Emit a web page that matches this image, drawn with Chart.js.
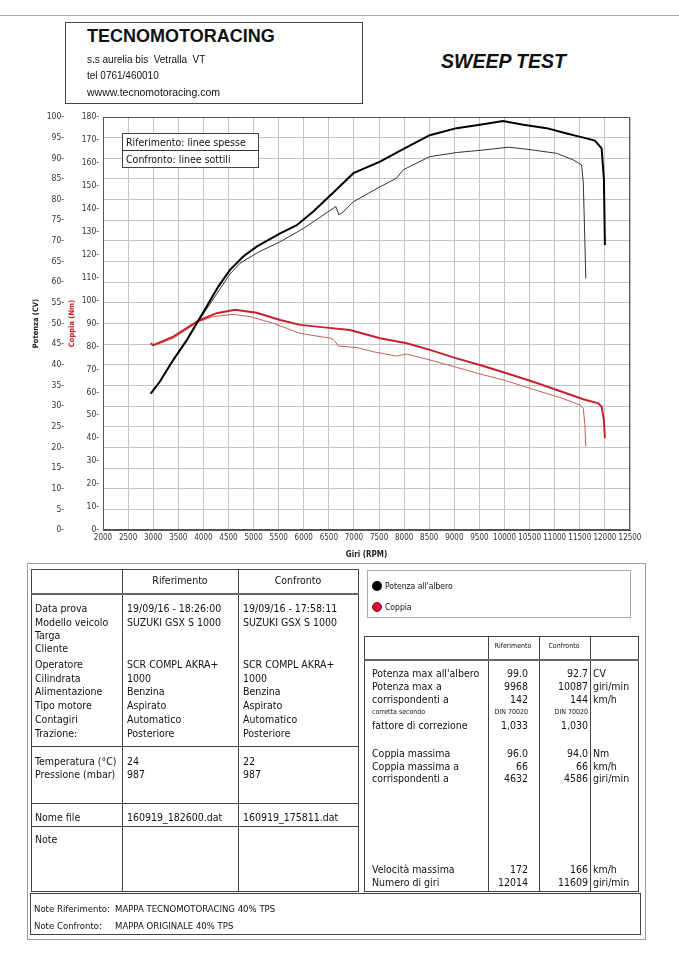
<!DOCTYPE html>
<html>
<head>
<meta charset="utf-8">
<title>Sweep test</title>
<script src="https://cdn.jsdelivr.net/npm/chart.js"></script>
<style>
  body { margin: 0; background: #fff; }
  #page { position: relative; width: 679px; height: 960px; overflow: hidden; color: #111;
          font-family: "DejaVu Sans Condensed", "DejaVu Sans", sans-serif; font-size: 10px; }
  .box { position: absolute; box-sizing: border-box; border: 1px solid #444; background: transparent; }
  .hl { position: absolute; height: 0; border-top: 1px solid #444; }
  .vl { position: absolute; width: 0; border-left: 1px solid #444; }
  .t { position: absolute; white-space: pre; line-height: 14px; }
  #chartWrap { position: absolute; left: 0; top: 100px; width: 679px; height: 470px; }
  .dot { position: absolute; width: 10px; height: 10px; border-radius: 50%; box-sizing: border-box; }
</style>
</head>
<body>
<div id="page">
  <div class="hl" style="left:0;top:15px;width:679px;border-color:#aaa"></div>
  <div class="box" style="left:65px;top:22px;width:298px;height:82px"></div>
  <div id="chartWrap"><canvas id="dyno" width="679" height="470"></canvas></div>
  <div class="box" style="left:122px;top:133px;width:137px;height:35px;background:#fff"></div>
  <div class="hl" style="left:122px;top:150px;width:137px;border-color:#333"></div>

  <div class="box" style="left:27px;top:563px;width:619px;height:377px;border-color:#999"></div>
  <div class="box" style="left:31px;top:569px;width:328px;height:323px"></div>
  <div class="vl" style="left:122px;top:569px;height:323px"></div>
  <div class="vl" style="left:238px;top:569px;height:323px"></div>
  <div class="hl" style="left:31px;top:593px;width:328px;border-top:2px solid #666"></div>
  <div class="hl" style="left:31px;top:746px;width:328px"></div>
  <div class="hl" style="left:31px;top:803px;width:328px"></div>
  <div class="hl" style="left:31px;top:826px;width:328px"></div>

  <div class="box" style="left:367px;top:570px;width:264px;height:48px;border-color:#aaa"></div>
  <div class="dot" style="left:372px;top:581px;background:#000"></div>
  <div class="dot" style="left:372px;top:602px;background:#d6103c;border:1px solid #8a0c22"></div>

  <div class="box" style="left:364px;top:636px;width:275px;height:256px"></div>
  <div class="vl" style="left:488px;top:636px;height:256px"></div>
  <div class="vl" style="left:539px;top:636px;height:256px"></div>
  <div class="vl" style="left:590px;top:636px;height:256px"></div>
  <div class="hl" style="left:364px;top:659px;width:275px;border-top:2px solid #666"></div>

  <div class="box" style="left:30px;top:893px;width:611px;height:42px"></div>
</div>
<script>
// giri (RPM) e valori letti dal grafico
// potenza all'albero (CV) - riferimento (linea spessa)
const rpmPotRif = [2950, 3130, 3400, 3670, 3900, 4065, 4300, 4530, 4800, 5060, 5530, 5860, 6190, 6590, 6990, 7520, 7980, 8510, 9045, 9510, 9970, 10375, 10840, 11240, 11570, 11800, 11935, 11980, 12000];
const potRif    = [33.0, 35.9, 41.2, 46.0, 50.7, 54.1, 59.0, 63.0, 66.3, 68.6, 71.8, 73.8, 77.1, 81.7, 86.4, 89.2, 92.2, 95.6, 97.3, 98.1, 99.0, 98.1, 97.3, 96.0, 95.0, 94.3, 92.4, 85.0, 69.0];
// potenza all'albero (CV) - confronto (linea sottile)
const rpmPotConf = [2950, 3130, 3400, 3670, 3900, 4065, 4530, 4730, 5100, 5530, 5990, 6590, 6640, 6700, 6800, 6990, 7520, 7850, 7980, 8510, 9045, 9575, 10087, 10570, 11040, 11370, 11535, 11570, 11620];
const potConf    = [33.0, 35.8, 41.0, 45.8, 50.5, 53.5, 62.0, 64.6, 67.3, 69.8, 73.0, 77.9, 78.3, 76.3, 77.2, 79.5, 83.1, 85.2, 87.2, 90.4, 91.4, 92.0, 92.7, 92.0, 91.2, 89.6, 88.4, 84.0, 60.9];
// coppia (Nm) - riferimento
const rpmCopRif = [2950, 3000, 3050, 3400, 3900, 4265, 4632, 5060, 5530, 5925, 6455, 6920, 7520, 8050, 8515, 9045, 9510, 10040, 10570, 11100, 11570, 11870, 11935, 11980, 12000];
const copRif    = [81.4, 80.6, 81.0, 84.3, 91.2, 94.5, 96.0, 94.7, 91.5, 89.4, 88.2, 87.2, 83.6, 81.4, 78.5, 74.8, 71.9, 68.3, 64.6, 60.6, 57.0, 55.2, 53.7, 48.0, 40.0];
// coppia (Nm) - confronto
const rpmCopConf = [2950, 3000, 3400, 3900, 4200, 4586, 4930, 5395, 5925, 6525, 6600, 6690, 7055, 7385, 7850, 8050, 8515, 9045, 9510, 10040, 10570, 11100, 11500, 11570, 11600, 11620];
const copConf    = [81.0, 80.3, 83.5, 90.8, 93.0, 94.0, 93.0, 90.1, 85.7, 83.6, 82.8, 80.2, 79.5, 77.7, 75.8, 76.7, 74.1, 70.9, 68.0, 65.0, 61.3, 57.8, 54.5, 53.0, 46.0, 36.3];

const page = document.getElementById('page');
function txt(x, y, s, style) {
  const d = document.createElement('div');
  d.className = 't';
  d.style.left = x + 'px';
  d.style.top = (y - 7) + 'px';
  d.style.cssText += (style || '');
  d.textContent = s;
  page.appendChild(d);
}
function txtR(xr, y, s, style) {
  const d = document.createElement('div');
  d.className = 't';
  d.style.right = (679 - xr) + 'px';
  d.style.top = (y - 7) + 'px';
  d.style.textAlign = 'right';
  d.style.cssText += (style || '');
  d.textContent = s;
  page.appendChild(d);
}
function txtC(xc, y, s, style) {
  const d = document.createElement('div');
  d.className = 't';
  d.style.left = (xc - 60) + 'px';
  d.style.width = '120px';
  d.style.textAlign = 'center';
  d.style.top = (y - 7) + 'px';
  d.style.cssText += (style || '');
  d.textContent = s;
  page.appendChild(d);
}

// intestazione
const arial = 'font-family:"Liberation Sans",Arial,sans-serif;';
txt(87, 35, 'TECNOMOTORACING', arial + 'font-size:18px;font-weight:bold;line-height:20px;top:26px');
txt(87, 60, 's.s aurelia bis  Vetralla  VT', arial + 'font-size:10px');
txt(87, 76, 'tel 0761/460010', arial + 'font-size:10px');
txt(87, 92, 'wwww.tecnomotoracing.com', arial + 'font-size:10.5px');
txt(441, 60, 'SWEEP TEST', arial + 'font-size:19.5px;font-weight:bold;font-style:italic;line-height:24px;top:49px');

txt(126, 142, 'Riferimento: linee spesse', 'font-size:10.5px');
txt(126, 159, 'Confronto: linee sottili', 'font-size:10.5px');

// tabella sinistra
txtC(180, 580, 'Riferimento', 'font-size:10.5px');
txtC(298, 580, 'Confronto', 'font-size:10.5px');
const righe = [
  ['Data prova', '19/09/16 - 18:26:00', '19/09/16 - 17:58:11', 608],
  ['Modello veicolo', 'SUZUKI GSX S 1000', 'SUZUKI GSX S 1000', 622],
  ['Targa', '', '', 635],
  ['Cliente', '', '', 648],
  ['Operatore', 'SCR COMPL AKRA+', 'SCR COMPL AKRA+', 664],
  ['Cilindrata', '1000', '1000', 678],
  ['Alimentazione', 'Benzina', 'Benzina', 691],
  ['Tipo motore', 'Aspirato', 'Aspirato', 705],
  ['Contagiri', 'Automatico', 'Automatico', 719],
  ['Trazione:', 'Posteriore', 'Posteriore', 733],
  ['Temperatura (°C)', '24', '22', 761],
  ['Pressione (mbar)', '987', '987', 774],
  ['Nome file', '160919_182600.dat', '160919_175811.dat', 817],
  ['Note', '', '', 839]
];
righe.forEach(r => {
  txt(35, r[3], r[0], 'font-size:10.5px');
  txt(127, r[3], r[1], 'font-size:10.5px');
  txt(243, r[3], r[2], 'font-size:10.5px');
});

// legenda serie
txt(385, 586, "Potenza all'albero", 'font-size:8.5px');
txt(385, 607, 'Coppia', 'font-size:8.5px');

// tabella destra
txtC(513, 646, 'Riferimento', 'font-size:7px');
txtC(564, 646, 'Confronto', 'font-size:7px');
const risultati = [
  ["Potenza max all'albero", '99.0', '92.7', 'CV', 673],
  ['Potenza max a', '9968', '10087', 'giri/min', 686],
  ['corrispondenti a', '142', '144', 'km/h', 699],
  ['fattore di correzione', '1,033', '1,030', '', 725],
  ['Coppia massima', '96.0', '94.0', 'Nm', 753],
  ['Coppia massima a', '66', '66', 'km/h', 766],
  ['corrispondenti a', '4632', '4586', 'giri/min', 778],
  ['Velocità massima', '172', '166', 'km/h', 869],
  ['Numero di giri', '12014', '11609', 'giri/min', 882]
];
risultati.forEach(r => {
  txt(372, r[4], r[0], 'font-size:10.5px');
  txtR(528, r[4], r[1], 'font-size:10.5px');
  txtR(588, r[4], r[2], 'font-size:10.5px');
  txt(593, r[4], r[3], 'font-size:10.5px');
});
txt(372, 712, 'corretta secondo', 'font-size:7px');
txtR(528, 712, 'DIN 70020', 'font-size:7px');
txtR(588, 712, 'DIN 70020', 'font-size:7px');

// note
txt(34, 909, 'Note Riferimento:', 'font-size:9.5px');
txt(115, 909, 'MAPPA TECNOMOTORACING 40% TPS', 'font-size:9.5px');
txt(34, 926, 'Note Confronto:', 'font-size:9.5px');
txt(115, 926, 'MAPPA ORIGINALE 40% TPS', 'font-size:9.5px');

// grafico
const pts = (xs, ys) => xs.map((x, i) => ({ x: x, y: ys[i] }));

const cornice = {
  id: 'cornice',
  beforeDatasetsDraw(chart) {
    const a = chart.chartArea, c = chart.ctx;
    c.save();
    c.strokeStyle = '#555';
    c.lineWidth = 1;
    c.strokeRect(a.left + 0.5, a.top + 0.5, a.width - 1, a.height - 1);
    c.restore();
  }
};

const tickFont = { family: '"DejaVu Sans Condensed", "DejaVu Sans", sans-serif', size: 8.5 };

new Chart(document.getElementById('dyno'), {
  type: 'line',
  data: {
    datasets: [
      { label: 'Potenza riferimento', data: pts(rpmPotRif, potRif), yAxisID: 'yPot', borderColor: '#000', borderWidth: 2 },
      { label: 'Potenza confronto', data: pts(rpmPotConf, potConf), yAxisID: 'yPot', borderColor: '#333', borderWidth: 1 },
      { label: 'Coppia riferimento', data: pts(rpmCopRif, copRif), yAxisID: 'yCop', borderColor: '#c8202e', borderWidth: 2 },
      { label: 'Coppia confronto', data: pts(rpmCopConf, copConf), yAxisID: 'yCop', borderColor: '#c0605e', borderWidth: 1 }
    ]
  },
  options: {
    responsive: false,
    animation: false,
    elements: { point: { radius: 0 }, line: { tension: 0 } },
    plugins: { legend: { display: false }, tooltip: { enabled: false } },
    layout: { padding: { left: 31, top: 17, right: 49, bottom: 10 } },
    scales: {
      x: {
        type: 'linear', min: 2000, max: 12500,
        ticks: { stepSize: 500, autoSkip: false, maxRotation: 0, font: { family: tickFont.family, size: 8 }, color: '#333', padding: 3,
                 callback: v => String(v) },
        grid: { color: '#c4c4c4', drawTicks: false },
        border: { color: '#555' },
        title: { display: true, text: 'Giri (RPM)', color: '#222', padding: { top: 1, bottom: 0 },
                 font: { family: tickFont.family, size: 8, weight: 'bold' } },
        afterFit: s => { s.height = 30; }
      },
      yPot: {
        position: 'left', weight: 2, min: 0, max: 100,
        ticks: { stepSize: 5, autoSkip: false, font: tickFont, color: '#333', padding: 3, callback: v => v + '-' },
        grid: { color: '#c4c4c4', drawTicks: false },
        border: { display: false },
        title: { display: true, text: 'Potenza (CV)', color: '#222', padding: 1,
                 font: { family: tickFont.family, size: 7.5, weight: 'bold' } },
        afterFit: s => { s.width = 36; }
      },
      yCop: {
        position: 'left', weight: 1, min: 0, max: 180,
        ticks: { stepSize: 10, autoSkip: false, font: tickFont, color: '#333', padding: 4, callback: v => v + '-' },
        grid: { drawOnChartArea: false, drawTicks: false },
        border: { color: '#555' },
        title: { display: true, text: 'Coppia (Nm)', color: '#d0202a', padding: 1,
                 font: { family: tickFont.family, size: 7.5, weight: 'bold' } },
        afterFit: s => { s.width = 36; }
      }
    }
  },
  plugins: [cornice]
});
</script>
</body>
</html>
